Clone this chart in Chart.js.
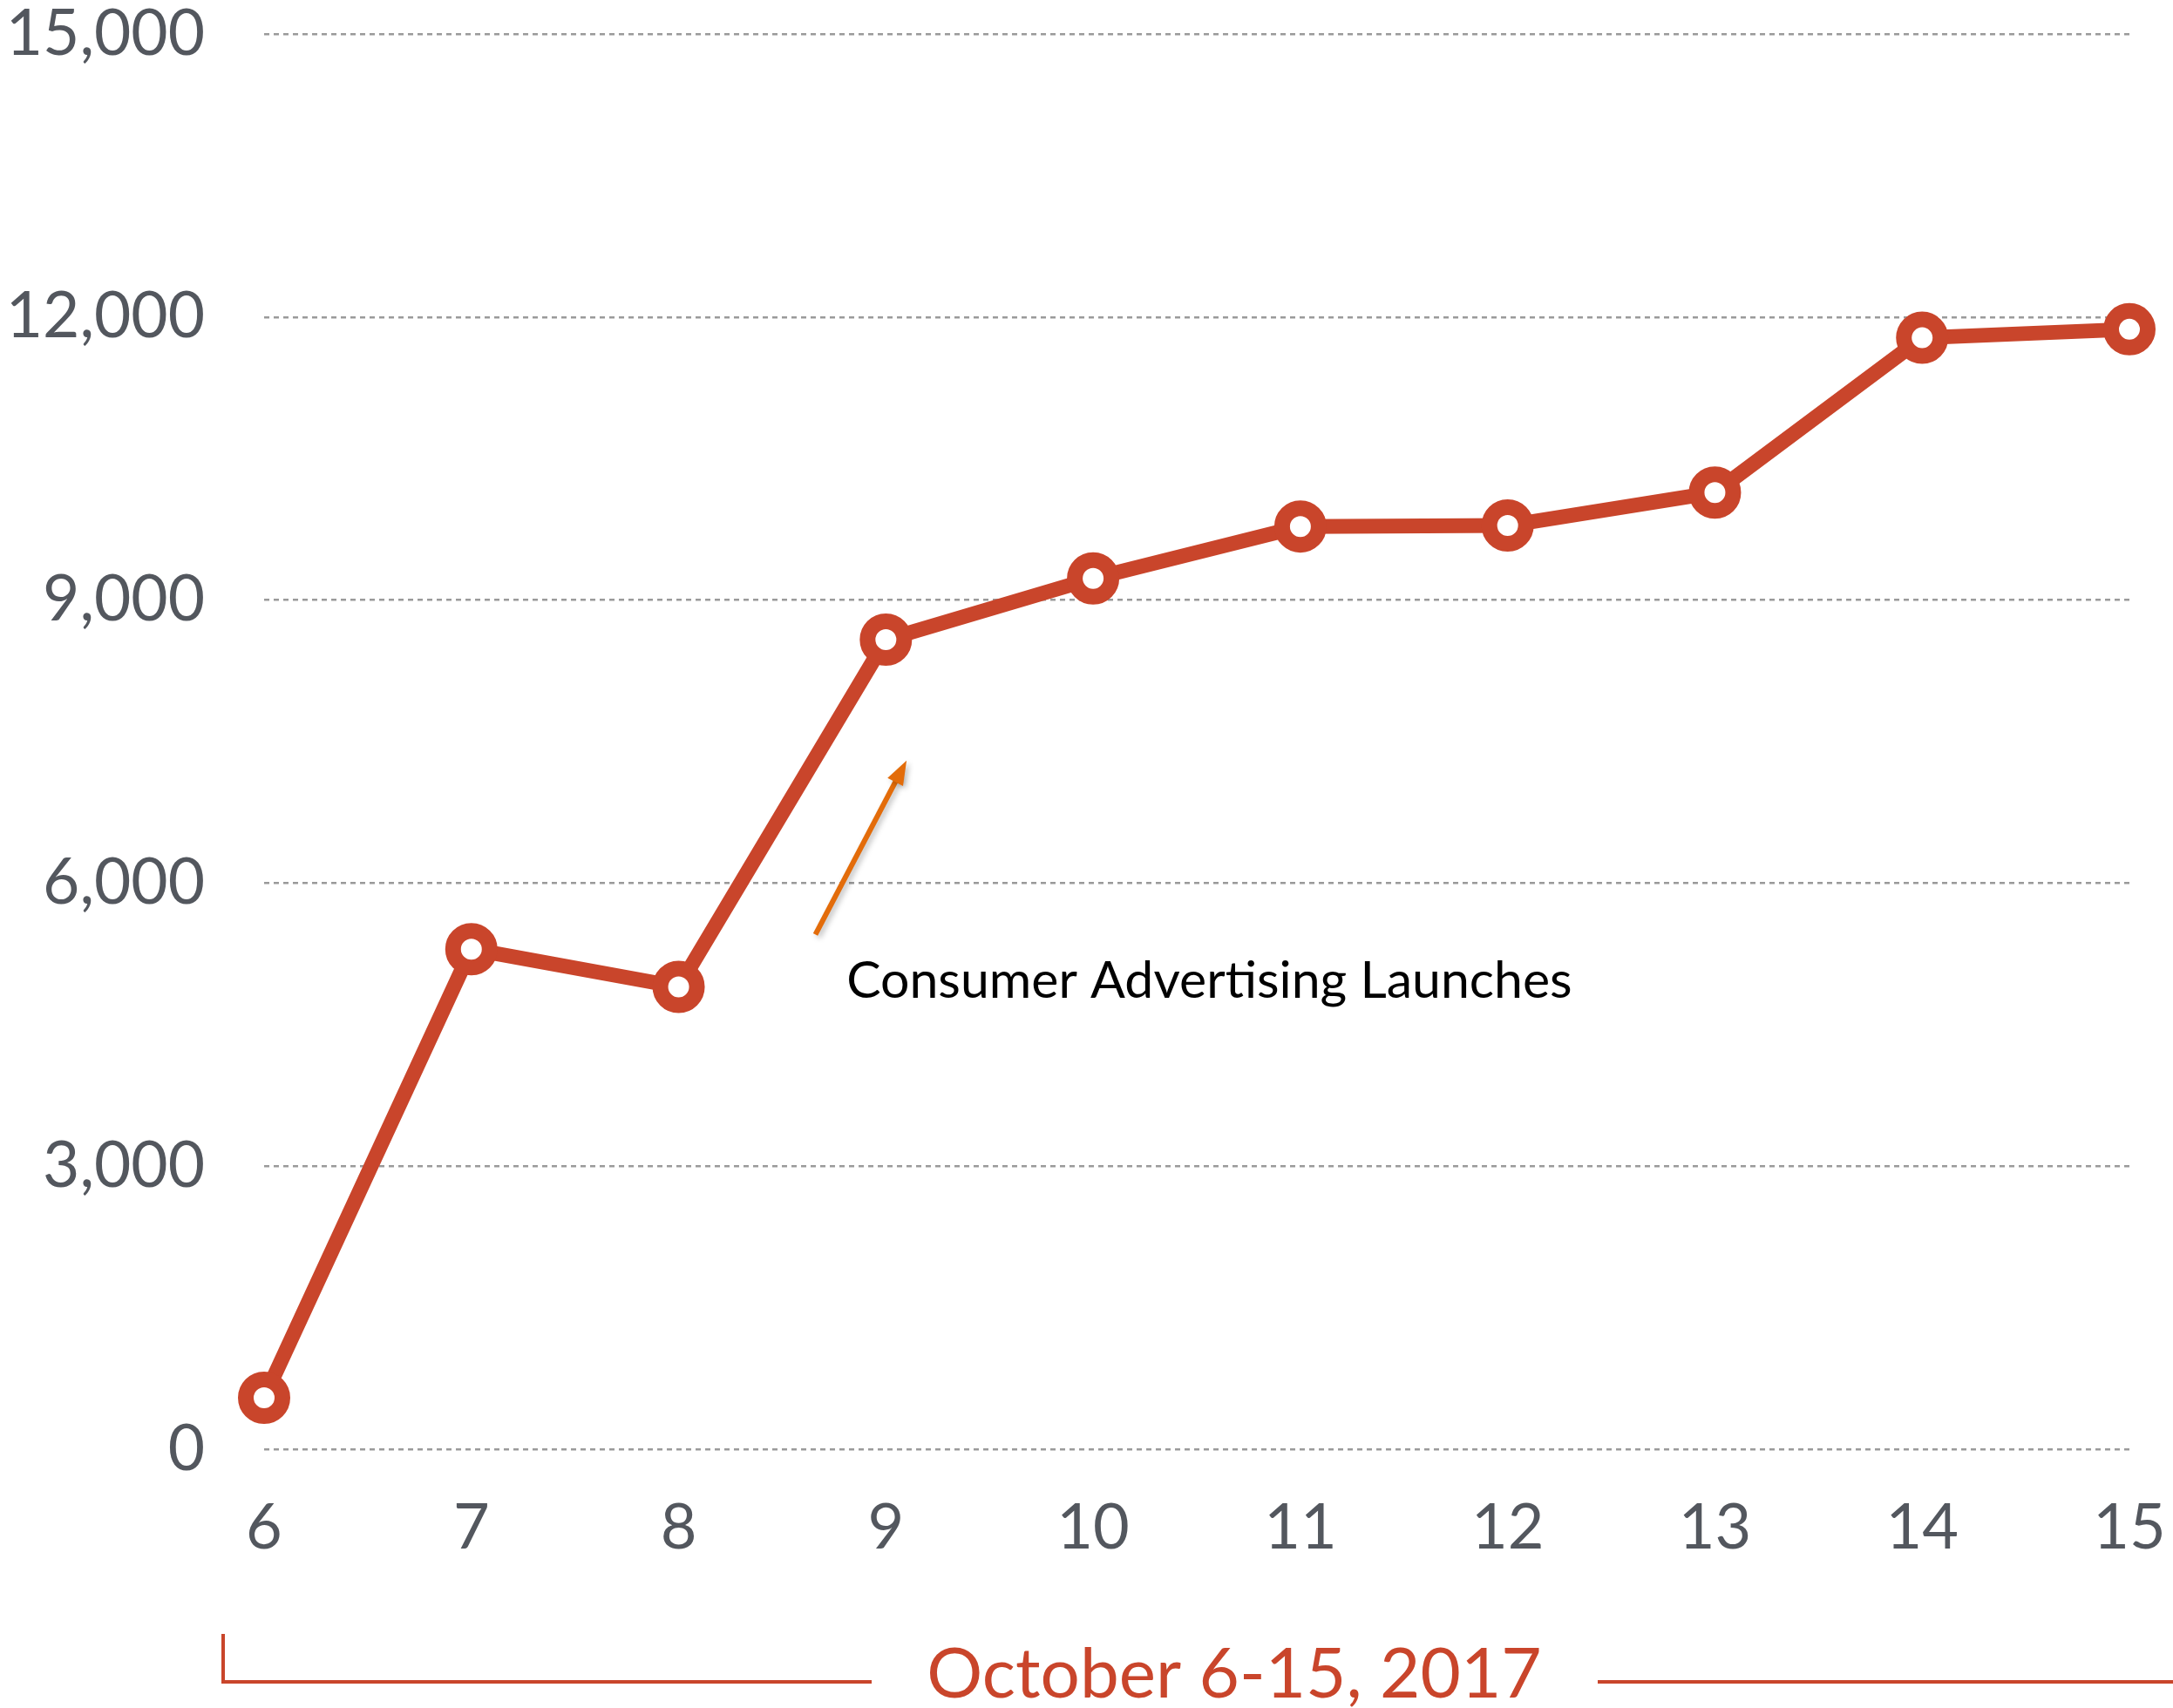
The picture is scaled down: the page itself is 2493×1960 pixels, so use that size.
<!DOCTYPE html>
<html>
<head>
<meta charset="utf-8">
<script src="https://cdn.jsdelivr.net/npm/chart.js@4"></script>
<style>
  html, body { margin: 0; padding: 0; background: #fff; }
  canvas { display: block; }
</style>
</head>
<body>
<canvas id="dailyChart" width="2493" height="1960"></canvas>
<script>
// ---------- DATA ----------
const days = ['6', '7', '8', '9', '10', '11', '12', '13', '14', '15'];
const dailyTotals = [545, 5300, 4900, 8580, 9230, 9780, 9790, 10140, 11780, 11870];
const yTicks = [0, 3000, 6000, 9000, 12000, 15000];
const periodLabel = 'October 6-15, 2017';
const noteText = 'Consumer Advertising Launches';

const RED = '#C9452B';
const GREY_TEXT = '#53575E';

// arrow + note, plus the bracket under the x axis
const extras = {
  id: 'extras',
  afterDraw(chart) {
    const { ctx, chartArea, scales } = chart;
    const x = scales.x, y = scales.y;
    ctx.save();

    // arrow pointing at the jump on the 9th
    const x0 = x.getPixelForValue(2.66), y0 = y.getPixelForValue(5455);
    const x1 = x.getPixelForValue(3.10), y1 = y.getPixelForValue(7300);
    const ang = Math.atan2(y1 - y0, x1 - x0);
    ctx.strokeStyle = '#E36C0A';
    ctx.fillStyle = '#E36C0A';
    ctx.lineWidth = 6;
    ctx.shadowColor = 'rgba(0,0,0,0.25)';
    ctx.shadowBlur = 6;
    ctx.shadowOffsetX = 3;
    ctx.shadowOffsetY = 3;
    ctx.beginPath();
    ctx.moveTo(x0, y0);
    ctx.lineTo(x1 - 20 * Math.cos(ang), y1 - 20 * Math.sin(ang));
    ctx.stroke();
    ctx.beginPath();
    ctx.moveTo(x1, y1);
    ctx.lineTo(x1 - 28 * Math.cos(ang) + 10 * Math.sin(ang), y1 - 28 * Math.sin(ang) - 10 * Math.cos(ang));
    ctx.lineTo(x1 - 28 * Math.cos(ang) - 10 * Math.sin(ang), y1 - 28 * Math.sin(ang) + 10 * Math.cos(ang));
    ctx.closePath();
    ctx.fill();
    ctx.shadowColor = 'transparent';

    ctx.fillStyle = '#000';
    ctx.font = '59px Lato, sans-serif';
    ctx.textAlign = 'left';
    ctx.textBaseline = 'alphabetic';
    ctx.fillText(noteText, x.getPixelForValue(2.81), y.getPixelForValue(4783));

    // bracket with the date range
    const by = chartArea.bottom + 267;
    const bx = chartArea.left - 47;
    ctx.strokeStyle = RED;
    ctx.lineWidth = 4;
    ctx.beginPath();
    ctx.moveTo(bx, by - 55);
    ctx.lineTo(bx, by);
    ctx.lineTo(1000, by);
    ctx.moveTo(1833, by);
    ctx.lineTo(chart.width, by);
    ctx.stroke();

    ctx.fillStyle = RED;
    ctx.font = '80px Lato, sans-serif';
    ctx.textAlign = 'center';
    ctx.fillText(periodLabel, 1416, by + 18);
    ctx.restore();
  }
};

new Chart(document.getElementById('dailyChart'), {
  type: 'line',
  data: {
    labels: days,
    datasets: [{
      data: dailyTotals,
      borderColor: RED,
      borderWidth: 17,
      borderJoinStyle: 'round',
      tension: 0,
      pointRadius: 21,
      pointHoverRadius: 21,
      pointBorderWidth: 18,
      pointBorderColor: RED,
      pointBackgroundColor: '#fff'
    }]
  },
  options: {
    responsive: false,
    animation: false,
    layout: { padding: { top: 38, right: 50, left: 0, bottom: 0 } },
    plugins: {
      legend: { display: false },
      tooltip: { enabled: false }
    },
    scales: {
      x: {
        grid: { display: false },
        border: { display: false },
        ticks: {
          color: GREY_TEXT,
          font: { family: 'Lato', size: 72 },
          padding: 40,
          maxRotation: 0
        },
        afterFit(scale) {
          scale.height = 297;
          scale.paddingLeft = 0;
          scale.paddingRight = 0;
        }
      },
      y: {
        min: 0,
        max: 15000,
        afterBuildTicks(scale) { scale.ticks = yTicks.map(v => ({ value: v })); },
        grid: { color: '#9a9a9a', lineWidth: 2.5, drawTicks: false },
        border: { display: false, dash: [6, 5] },
        ticks: {
          color: GREY_TEXT,
          font: { family: 'Lato', size: 73 },
          padding: 68,
          callback: v => v.toLocaleString('en-US')
        },
        afterFit(scale) {
          scale.width = 303;
          scale.paddingTop = 0;
          scale.paddingBottom = 0;
        }
      }
    }
  },
  plugins: [extras]
});
</script>
</body>
</html>
